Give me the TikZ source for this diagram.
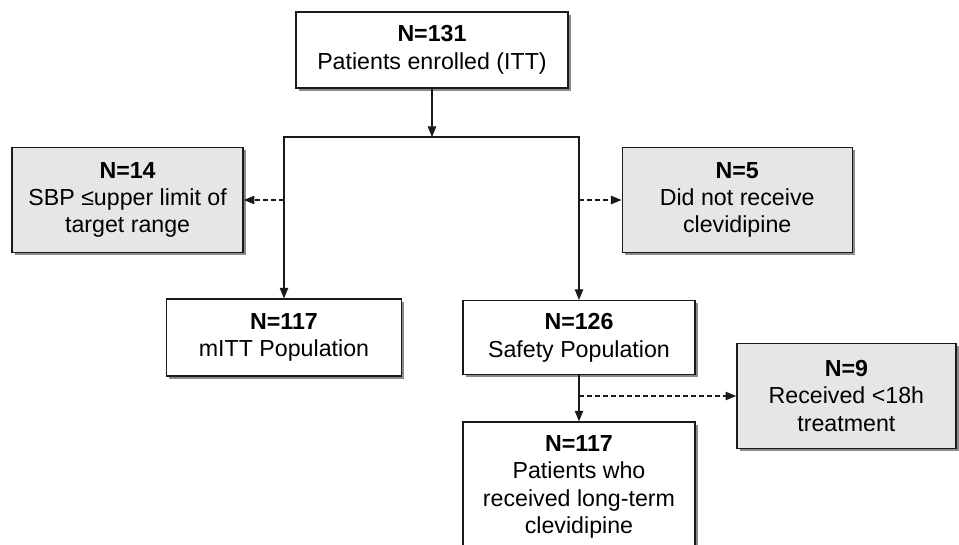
\documentclass[tikz,border=0pt]{standalone}
\usepackage{fontspec}
\setmainfont{Liberation Sans}
\usetikzlibrary{positioning, arrows.meta, shadows}
\usepackage{xcolor}
\definecolor{cfline}{HTML}{1A1A1A}
\definecolor{cfgrey}{HTML}{E6E6E6}
\definecolor{cfshadow}{HTML}{6E6E6E}

\begin{document}
\begin{tikzpicture}[font=\fontsize{16.5}{19.5}\selectfont,
    box/.style={draw=cfline, line width=1pt, fill=white, align=center, inner sep=0pt,
                drop shadow={shadow xshift=2pt, shadow yshift=-2pt, fill=cfshadow, opacity=0.8}},
    greybox/.style={box, fill=cfgrey},
    flow/.style={-{Triangle[length=7.5pt,width=6pt]}, line width=0.8pt, color=cfline},
    skip/.style={flow, dash pattern=on 3.5pt off 2.2pt}]
    \useasboundingbox (0,0) rectangle (23.975,-13.625);
    \clip (0,0) rectangle (23.975,-13.625);
    \node[box, minimum width=6.8cm, minimum height=1.9cm] (enrol) at (10.8,-1.25)
          {\textbf{N=131}\\Patients enrolled (ITT)};
    \node[greybox, minimum width=5.775cm, minimum height=2.625cm] (sbp) at (3.19,-5.0)
          {\textbf{N=14}\\SBP ≤upper limit of\\target range};
    \node[greybox, minimum width=5.75cm, minimum height=2.625cm] (norx) at (18.43,-5.0)
          {\textbf{N=5}\\Did not receive\\clevidipine};
    \node[box, minimum width=5.875cm, minimum height=1.925cm] (mitt) at (7.1,-8.44)
          {\textbf{N=117}\\mITT Population};
    \node[box, minimum width=5.8cm, minimum height=1.85cm] (safety) at (14.475,-8.44)
          {\textbf{N=126}\\Safety Population};
    \node[greybox, minimum width=5.475cm, minimum height=2.625cm] (short) at (21.16,-9.9)
          {\textbf{N=9}\\Received <18h\\treatment};
    \node[box, minimum width=5.8cm, minimum height=3.25cm] (longterm) at (14.475,-12.175)
          {\textbf{N=117}\\Patients who\\received long-term\\clevidipine};
    \coordinate (split) at (10.8,-3.425);
    \coordinate (lbranch) at (7.1,-5.0);
    \coordinate (rbranch) at (14.475,-5.0);
    \coordinate (sbranch) at (14.475,-9.9);
    \draw[flow] (enrol) -- (split);
    \draw[flow] (split) -| (mitt);
    \draw[flow] (split) -| (safety);
    \draw[skip] (lbranch) -- (sbp);
    \draw[skip] (rbranch) -- (norx);
    \draw[flow] (safety) -- (longterm);
    \draw[skip] (sbranch) -- (short);
\end{tikzpicture}
\end{document}
